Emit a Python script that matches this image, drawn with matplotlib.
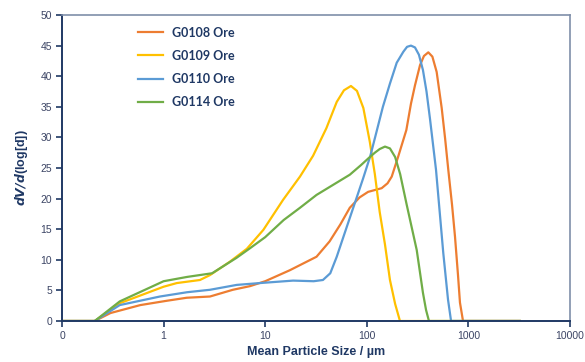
import matplotlib.pyplot as plt
from matplotlib.ticker import FixedLocator, FixedFormatter, NullLocator

# particle size (um) and dV/d(log[d])
x_g0108 = [0.1, 0.21, 0.30, 0.59, 1.07, 1.69, 2.86, 4.8, 7.1, 10, 17.5, 32, 43, 55, 68, 85,
           103, 120, 140, 160, 176, 204, 245, 272, 298, 334, 365, 403, 442, 487, 546, 590,
           634, 690, 738, 790, 826, 885, 3200]
y_g0108 = [0, 0, 1.3, 2.6, 3.3, 3.8, 4.0, 5.1, 5.7, 6.5, 8.3, 10.5, 13.0, 15.8, 18.5, 20.2,
           21.1, 21.4, 21.7, 22.5, 23.6, 26.9, 31.2, 35.5, 38.5, 41.8, 43.3, 43.9, 43.2, 40.7, 34.8, 29.8,
           24.7, 19.0, 13.8, 7.5, 3.0, 0, 0]

x_g0109 = [0.1, 0.21, 0.37, 1.0, 1.35, 2.28, 2.86, 4.5, 6.6, 9.6, 15, 22, 29.6, 40, 50.6,
           59.6, 69.8, 80, 92.5, 107, 120, 134, 151, 169, 190, 212, 3200]
y_g0109 = [0, 0, 2.9, 5.6, 6.2, 6.7, 7.5, 9.7, 11.8, 14.9, 19.8, 23.6, 27.0, 31.5, 35.8,
           37.7, 38.4, 37.6, 34.8, 29.3, 24.0, 17.8, 12.5, 6.7, 2.8, 0, 0]

x_g0110 = [0.1, 0.21, 0.37, 0.92, 1.7, 2.86, 5.25, 8.9, 18.8, 30, 37, 43.7, 50.6, 59, 80, 92, 108,
           125, 144, 169, 197, 229, 249, 272, 298, 326, 357, 387, 419, 480, 566, 630, 675, 3200]
y_g0110 = [0, 0, 2.6, 4.0, 4.7, 5.1, 5.9, 6.2, 6.6, 6.5, 6.7, 7.8, 10.5, 13.8, 20.3, 23.3, 26.9,
           31.0, 35.0, 38.8, 42.2, 44.0, 44.8, 45.0, 44.7, 43.5, 41.0, 37.5, 33.0, 24.7, 11.1, 3.5, 0, 0]

x_g0114 = [0.1, 0.21, 0.37, 1.0, 1.7, 3.0, 5.2, 7.1, 10, 15.2, 22, 32, 68, 88, 104, 120,
           134, 151, 169, 190, 213, 247, 310, 357, 383, 409, 3200]
y_g0114 = [0, 0, 3.2, 6.5, 7.2, 7.8, 10.3, 11.9, 13.7, 16.5, 18.5, 20.6, 23.9, 25.5, 26.6, 27.5,
           28.1, 28.5, 28.2, 26.8, 24.0, 19.0, 11.6, 4.6, 1.8, 0, 0]

xticks = [0.1, 1, 10, 100, 1000, 10000]
xticklabels = ["0", "1", "10", "100", "1000", "10000"]
yticks = [0, 5, 10, 15, 20, 25, 30, 35, 40, 45, 50]

navy = "#1F3864"
tickc = "#3B4464"

plt.rcParams["font.family"] = ["Liberation Sans", "DejaVu Sans"]
plt.rcParams["mathtext.fontset"] = "dejavusans"

fig = plt.figure(figsize=(5.85, 3.62), dpi=100)
ax = fig.add_axes([62/585, 41/362, 508/585, 306/362])

ax.plot(x_g0108, y_g0108, color="#ED7D31", lw=1.6, label="G0108 Ore")
ax.plot(x_g0109, y_g0109, color="#FFC000", lw=1.6, label="G0109 Ore")
ax.plot(x_g0110, y_g0110, color="#5B9BD5", lw=1.6, label="G0110 Ore")
ax.plot(x_g0114, y_g0114, color="#70AD47", lw=1.6, label="G0114 Ore")

ax.set_xscale("log")
ax.set_xlim(0.1, 10000)
ax.set_ylim(0, 50)
ax.xaxis.set_major_locator(FixedLocator(xticks))
ax.xaxis.set_major_formatter(FixedFormatter(xticklabels))
ax.xaxis.set_minor_locator(NullLocator())
ax.set_yticks(yticks)

ax.tick_params(axis="both", direction="out", length=4, width=1.2, color=navy,
               labelsize=7.5, labelcolor=tickc, pad=3)
for s in ["left", "bottom"]:
    ax.spines[s].set_color(navy)
    ax.spines[s].set_linewidth(1.4)
for s in ["top", "right"]:
    ax.spines[s].set_color("#7F8FA9")
    ax.spines[s].set_linewidth(1.2)

ax.set_xlabel("Mean Particle Size / µm", fontsize=9, fontweight="bold", color=navy, labelpad=4)
ax.set_ylabel(r"$\mathbfit{dV/d}$(log[d])", fontsize=9, fontweight="bold", color=navy, labelpad=8)

leg = ax.legend(loc="upper left", bbox_to_anchor=(0.15, 0.962), frameon=False,
                borderpad=0, borderaxespad=0, handlelength=2.0, handletextpad=0.7,
                labelspacing=0.89, prop={"family": ["Lato", "DejaVu Sans"], "weight": "bold", "size": 9})
for t in leg.get_texts():
    t.set_color(navy)

fig.savefig("out.png", dpi=100)
